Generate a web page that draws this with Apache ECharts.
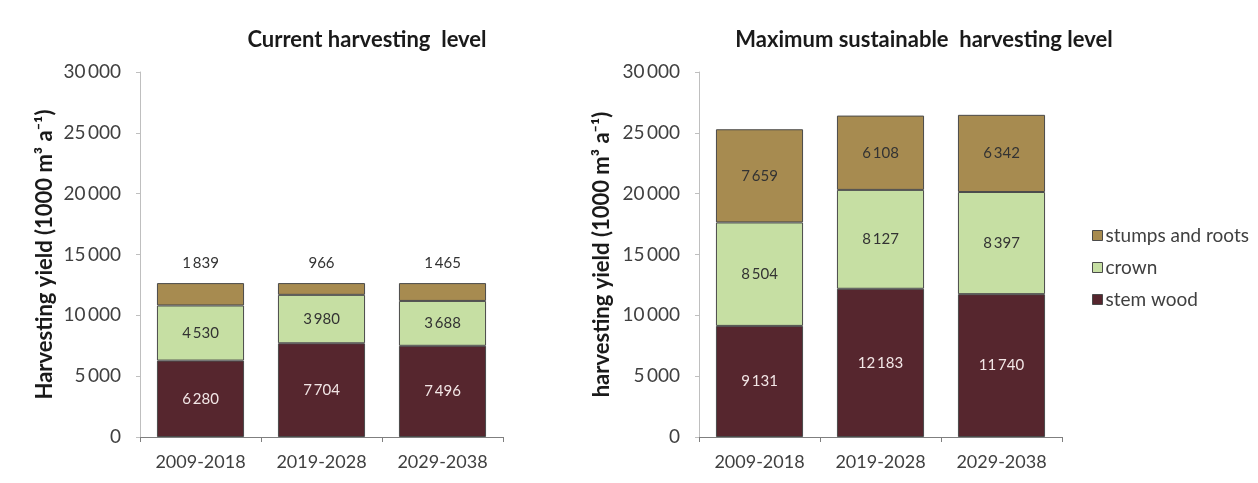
<!DOCTYPE html>
<html>
<head>
<meta charset="utf-8">
<script src="https://cdn.jsdelivr.net/npm/echarts@6/dist/echarts.min.js"></script>
<style>
  html, body { margin: 0; padding: 0; background: #ffffff; }
  #chart { width: 1258px; height: 483px; }
</style>
</head>
<body>
<div id="chart"></div>
<script>
// Harvesting yield by decade, 1000 m³ per year
const periods = ['2009-2018', '2019-2028', '2029-2038'];

// Current harvesting level
const currentStemWood = [6280, 7704, 7496];
const currentCrown = [4530, 3980, 3688];
const currentStumps = [1839, 966, 1465];

// Maximum sustainable harvesting level
const maxStemWood = [9131, 12183, 11740];
const maxCrown = [8504, 8127, 8397];
const maxStumps = [7659, 6108, 6342];

const yTicks = [0, 5000, 10000, 15000, 20000, 25000, 30000];

const colors = {
  'stem wood': '#56262E',
  'crown': '#C6DFA3',
  'stumps and roots': '#A78B50'
};

const FONT = 'Lato, "Open Sans", sans-serif';
const TEXT = '#404040';

function fmt(v) {
  return String(v).replace(/\B(?=(\d{3})+(?!\d))/g, '\u2009');
}

function yAxisFor(gridIndex, name, gap) {
  return {
    type: 'value', gridIndex,
    min: yTicks[0], max: yTicks[yTicks.length - 1], interval: yTicks[1] - yTicks[0],
    name, nameLocation: 'middle', nameRotate: 90, nameGap: gap,
    nameTextStyle: { fontFamily: FONT, fontSize: 22, fontWeight: 'bold', color: '#1a1a1a' },
    axisLine: { show: true, lineStyle: { color: '#bfbfbf', width: 1 } },
    axisTick: { show: true, length: 4, lineStyle: { color: '#bfbfbf' } },
    splitLine: { show: false },
    axisLabel: { fontFamily: FONT, fontSize: 19, color: TEXT, margin: 19, formatter: fmt }
  };
}

function xAxisFor(gridIndex) {
  return {
    type: 'category', gridIndex, data: periods,
    axisLine: { show: true, lineStyle: { color: '#7f7f7f', width: 1 } },
    axisTick: { show: true, length: 5, alignWithLabel: false, lineStyle: { color: '#7f7f7f' } },
    axisLabel: { fontFamily: FONT, fontSize: 18, color: TEXT, margin: 16, interval: 0, hideOverlap: false }
  };
}

function barSeries(name, data, idx, label) {
  return {
    name, type: 'bar', stack: 'total' + idx,
    xAxisIndex: idx, yAxisIndex: idx,
    data, barWidth: '72%',
    itemStyle: { color: colors[name], borderColor: '#4a4a4a', borderWidth: 1 },
    label: Object.assign({
      show: true, fontFamily: FONT, fontSize: 15,
      formatter: p => fmt(p.value)
    }, label)
  };
}

const chart = echarts.init(document.getElementById('chart'), null, { renderer: 'canvas' });

chart.setOption({
  animation: false,
  backgroundColor: '#ffffff',
  title: [
    { text: 'Current harvesting  level', left: 362, top: 24, textAlign: 'center',
      textStyle: { fontFamily: FONT, fontSize: 22, fontWeight: 'bold', color: '#1a1a1a' } },
    { text: 'Maximum sustainable  harvesting level', left: 919, top: 24, textAlign: 'center',
      textStyle: { fontFamily: FONT, fontSize: 22, fontWeight: 'bold', color: '#1a1a1a' } }
  ],
  legend: {
    orient: 'vertical', left: 1087, top: 221, itemGap: 13,
    itemWidth: 10, itemHeight: 10, icon: 'rect',
    data: ['stumps and roots', 'crown', 'stem wood'],
    textStyle: { fontFamily: FONT, fontSize: 19, color: TEXT, padding: [0, 0, 0, -2] },
    itemStyle: { borderColor: '#4a4a4a', borderWidth: 1 },
    selectedMode: false
  },
  grid: [
    { left: 140, right: 755, top: 72, bottom: 46 },
    { left: 699, right: 196, top: 72, bottom: 46 }
  ],
  xAxis: [xAxisFor(0), xAxisFor(1)],
  yAxis: [
    yAxisFor(0, 'Harvesting yield (1000 m³ a⁻¹)', 84),
    yAxisFor(1, 'harvesting yield (1000 m³ a⁻¹)', 86)
  ],
  series: [
    barSeries('stem wood', currentStemWood, 0, { position: 'inside', color: '#f2e6e6' }),
    barSeries('crown', currentCrown, 0, { position: 'inside', color: '#333333' }),
    barSeries('stumps and roots', currentStumps, 0, { position: 'top', distance: 12, color: '#333333' }),
    barSeries('stem wood', maxStemWood, 1, { position: 'inside', color: '#f2e6e6' }),
    barSeries('crown', maxCrown, 1, { position: 'inside', color: '#333333' }),
    barSeries('stumps and roots', maxStumps, 1, { position: 'inside', color: '#333333' })
  ]
});
</script>
</body>
</html>
